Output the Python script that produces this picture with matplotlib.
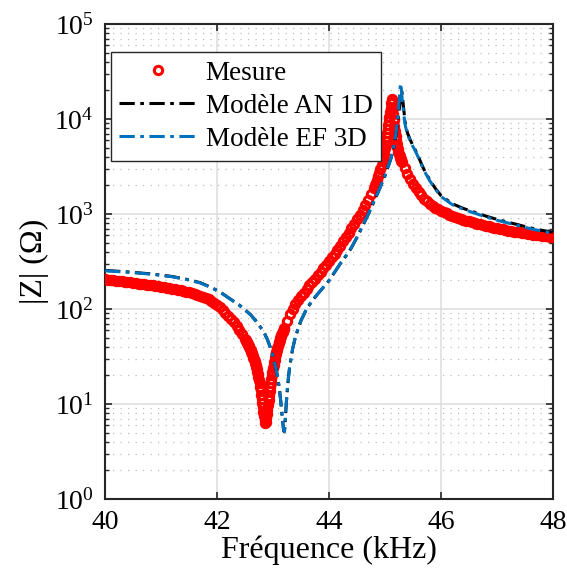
import matplotlib
matplotlib.use("Agg")
import matplotlib.pyplot as plt
from matplotlib.ticker import LogLocator, NullFormatter

# --- data --------------------------------------------------------------------
mesure_khz = [
    40.00, 40.05, 40.10, 40.15, 40.20, 40.25, 40.30, 40.35, 40.40, 40.45,
    40.50, 40.55, 40.60, 40.65, 40.70, 40.75, 40.80, 40.85, 40.90, 40.95,
    41.00, 41.05, 41.10, 41.15, 41.20, 41.25, 41.30, 41.35, 41.40, 41.45,
    41.50, 41.55, 41.60, 41.65, 41.70, 41.75, 41.80, 41.85, 41.90, 41.95,
    42.00, 42.05, 42.10, 42.15, 42.20, 42.25, 42.30, 42.35, 42.40, 42.45,
    42.50,
    42.51, 42.52, 42.53, 42.54, 42.55, 42.56, 42.57, 42.58, 42.59, 42.60,
    42.61, 42.62, 42.63, 42.64, 42.65, 42.66, 42.67, 42.68, 42.69, 42.70,
    42.71, 42.72, 42.73, 42.74, 42.75, 42.76, 42.77, 42.78, 42.79, 42.80,
    42.81, 42.82, 42.83, 42.84, 42.85, 42.86, 42.87, 42.88, 42.89, 42.90,
    42.91, 42.92, 42.93, 42.94, 42.95, 42.96, 42.97, 42.98, 42.99, 43.00,
    43.01, 43.02, 43.03, 43.04, 43.05, 43.06, 43.07, 43.08, 43.09, 43.10,
    43.11, 43.12, 43.13, 43.14, 43.15, 43.16, 43.17, 43.18, 43.19, 43.20,
    43.25, 43.30, 43.35, 43.40, 43.45, 43.50, 43.55, 43.60, 43.65, 43.70,
    43.75, 43.80, 43.85, 43.90, 43.95, 44.00, 44.05, 44.10, 44.15, 44.20,
    44.25, 44.30, 44.35, 44.40, 44.45, 44.50, 44.55, 44.60, 44.65, 44.70,
    44.75, 44.80,
    44.82, 44.84, 44.86, 44.88, 44.90, 44.92, 44.94, 44.96,
    44.97, 44.98, 44.99, 45.00, 45.01, 45.02, 45.03, 45.04, 45.05, 45.06,
    45.07, 45.08, 45.09, 45.10, 45.11, 45.12, 45.13, 45.14, 45.15, 45.16,
    45.17, 45.18, 45.19, 45.20, 45.21, 45.22, 45.23, 45.24, 45.25, 45.26,
    45.27, 45.28, 45.29, 45.30,
    45.35, 45.40, 45.45, 45.50, 45.55, 45.60, 45.65, 45.70, 45.75, 45.80,
    45.85, 45.90, 45.95, 46.00, 46.05, 46.10, 46.15, 46.20, 46.25, 46.30,
    46.35, 46.40, 46.45, 46.50, 46.55, 46.60, 46.65, 46.70, 46.75, 46.80,
    46.85, 46.90, 46.95, 47.00, 47.05, 47.10, 47.15, 47.20, 47.25, 47.30,
    47.35, 47.40, 47.45, 47.50, 47.55, 47.60, 47.65, 47.70, 47.75, 47.80,
    47.85, 47.90, 47.95, 48.00,
]
mesure_ohm = [
    205.1, 203.7, 201.8, 200.4, 198.6, 197.2, 195.4, 194.1, 192.3, 190.5,
    188.8, 187.1, 185.4, 183.7, 182.0, 180.3, 178.6, 177.0, 175.4, 173.4,
    171.8, 169.8, 167.9, 166.0, 164.1, 161.8, 159.6, 157.4, 154.9, 152.4,
    150.0, 147.2, 144.5, 141.6, 138.7, 135.2, 131.8, 127.1, 122.2, 116.1,
    110.2, 104.0, 97.7, 91.6, 85.5, 79.1, 72.8, 66.5, 60.3, 54.3,
    48.8,
    47.6, 46.6, 45.4, 44.2, 43.0, 41.8, 40.6, 39.4, 38.2, 37.0,
    35.7, 34.5, 33.3, 32.0, 30.8, 29.5, 28.2, 27.0, 25.7, 24.4,
    23.1, 21.8, 20.5, 19.2, 17.9, 16.5, 15.2, 13.9, 12.6, 11.4,
    10.3, 9.20, 8.28, 7.48, 6.81, 6.31, 6.53, 7.08, 7.82, 8.71,
    9.77, 10.96, 12.2, 13.6, 15.1, 16.7, 18.4, 20.1, 21.9, 23.7,
    25.6, 27.5, 29.4, 31.3, 33.3, 35.2, 37.2, 39.3, 41.3, 43.4,
    45.4, 47.4, 49.4, 51.4, 53.3, 55.3, 57.3, 59.3, 61.2, 63.2,
    75.5, 88.2, 100.5, 112.5, 124.0, 136.0, 149.0, 162.8, 177.2, 192.9,
    209.6, 227.7, 247.4, 268.8, 292.7, 318.7, 349.5, 383.2, 422.1, 466.0,
    516.9, 573.4, 635.9, 705.5, 786.0, 877.8, 985.0, 1105, 1248, 1417,
    1620, 1877,
    2002, 2145, 2309, 2502, 2725, 2980, 3300, 3720,
    3970, 4250, 4570, 4930, 5350, 5840, 6420, 7090, 7860, 8700,
    9620, 10590, 11800, 13120, 14620, 16410, 15310, 13180, 11220, 9661,
    8414, 7413, 6607, 5984, 5495, 5105, 4786, 4519, 4296, 4102,
    3935, 3784, 3648, 3524,
    3020, 2630, 2317, 2065, 1862, 1698, 1567, 1455, 1365, 1288,
    1224, 1169, 1122, 1082, 1047, 1014, 986.3, 959.4, 935.4, 912.0,
    891.3, 871.0, 853.1, 835.6, 820.3, 805.4, 790.6, 776.2, 763.9, 751.7,
    739.6, 727.8, 717.8, 707.9, 698.2, 688.7, 679.2, 669.9, 662.2, 654.7,
    647.2, 639.8, 632.4, 625.2, 619.4, 613.8, 608.2, 602.6, 597.0, 591.5,
    586.1, 580.7, 575.4, 571.5,
]

an1d_khz = [
    40.0, 40.4, 40.8, 41.2, 41.5, 41.7, 41.9, 42.0, 42.1, 42.2,
    42.3, 42.4, 42.5, 42.6, 42.7, 42.8, 42.85, 42.9, 42.95, 43.0,
    43.05, 43.08, 43.10, 43.12, 43.14, 43.16, 43.18, 43.19, 43.20, 43.21,
    43.22, 43.24, 43.26, 43.28, 43.30, 43.35, 43.40, 43.45, 43.50, 43.60,
    43.70, 43.80, 43.90, 44.00, 44.10, 44.20, 44.30, 44.40, 44.50, 44.60,
    44.70, 44.80, 44.90, 45.00, 45.05, 45.10, 45.15, 45.20, 45.23, 45.26,
    45.29, 45.30, 45.31, 45.33, 45.36, 45.40, 45.45, 45.50, 45.55, 45.60,
    45.65, 45.70, 45.80, 45.90, 46.00, 46.20, 46.40, 46.60, 46.80, 47.00,
    47.20, 47.40, 47.60, 47.80, 48.00,
]
an1d_ohm = [
    255, 246, 235, 220, 203, 189.5, 168.5, 157, 145, 132,
    120.5, 110, 98, 87.3, 74.3, 61.8, 55, 47.9, 39.8, 31.6,
    24.0, 19.5, 16.6, 13.5, 10.5, 7.9, 6.0, 5.3, 5.1, 5.5,
    7.0, 10.6, 15.0, 19.9, 25.0, 37.8, 50.5, 62.5, 75.5, 100,
    122, 144.5, 169, 199, 243.5, 299, 360, 441, 567, 748,
    989, 1338, 1820, 2530, 3080, 3720, 4800, 7000, 9700, 13400,
    17500, 20000, 17800, 13500, 9300, 7200, 6050, 5250, 4620, 3980,
    3390, 2920, 2290, 1860, 1565, 1285, 1145, 1043, 952, 878,
    819, 765, 714, 674, 644,
]

ef3d_khz = [
    40.0, 40.4, 40.8, 41.2, 41.5, 41.7, 41.9, 42.0, 42.1, 42.2,
    42.3, 42.4, 42.5, 42.6, 42.7, 42.8, 42.85, 42.9, 42.95, 43.0,
    43.05, 43.08, 43.10, 43.12, 43.14, 43.16, 43.18, 43.19, 43.20, 43.21,
    43.22, 43.24, 43.26, 43.28, 43.30, 43.35, 43.40, 43.45, 43.50, 43.60,
    43.70, 43.80, 43.90, 44.00, 44.10, 44.20, 44.30, 44.40, 44.50, 44.60,
    44.70, 44.80, 44.90, 45.00, 45.05, 45.10, 45.15, 45.20, 45.23, 45.25,
    45.27, 45.28, 45.29, 45.31, 45.33, 45.36, 45.40, 45.45, 45.50, 45.55,
    45.60, 45.65, 45.70, 45.80, 45.90, 46.00, 46.20, 46.40, 46.60, 46.80,
    47.00, 47.20, 47.40, 47.60, 47.80, 48.00,
]
ef3d_ohm = [
    252.9, 244.3, 233.4, 218.8, 201.8, 188.4, 167.9, 156.7, 144.5, 131.8,
    120.2, 109.6, 97.7, 87.1, 74.1, 61.7, 55.0, 47.9, 39.8, 31.6,
    24.0, 19.5, 16.6, 13.5, 10.5, 7.94, 6.03, 5.37, 5.13, 5.50,
    7.08, 10.7, 15.1, 20.0, 25.1, 38.0, 50.8, 62.8, 76.0, 100.5,
    122.7, 144.9, 169.7, 199.5, 244.6, 299.9, 360.8, 442.2, 568.2, 749.6,
    991, 1341, 1825, 2544, 3100, 3760, 4900, 7300, 10720, 14790,
    20890, 23770, 21380, 15490, 12020, 8710, 6918, 5888, 5129, 4519,
    3890, 3311, 2851, 2239, 1820, 1531, 1259, 1122, 1023, 933.3,
    861.0, 803.5, 749.9, 699.8, 660.7, 631.0,
]

labels = ['Mesure', 'Modèle AN 1D', 'Modèle EF 3D']
x_ticks = [40, 42, 44, 46, 48]

# --- style -------------------------------------------------------------------
plt.rcParams['font.family'] = ['Liberation Serif', 'DejaVu Serif']
plt.rcParams['mathtext.fontset'] = 'custom'
plt.rcParams['mathtext.rm'] = 'Liberation Serif'
plt.rcParams['mathtext.it'] = 'Liberation Serif:italic'
plt.rcParams['mathtext.bf'] = 'Liberation Serif:bold'

fig = plt.figure(figsize=(5.67, 5.83), dpi=100)
ax = fig.add_axes([0.1852, 0.144, 0.790, 0.8148])

ax.plot(mesure_khz, mesure_ohm, linestyle='none', marker='o', markersize=6,
        markerfacecolor='none', markeredgecolor='#ff0000', markeredgewidth=2.2,
        label=labels[0], zorder=3)
ax.plot(an1d_khz, an1d_ohm, color='black', linewidth=2.2, dashes=(5, 1.8, 1.2, 1.8),
        label=labels[1], zorder=4)
ax.plot(ef3d_khz, ef3d_ohm, color='#0072BD', linewidth=2.2, dashes=(5, 1.8, 1.2, 1.8),
        label=labels[2], zorder=5)

ax.set_yscale('log')
ax.set_xlim(40, 48)
ax.set_ylim(1, 1e5)
ax.set_xticks(x_ticks)
ax.yaxis.set_major_locator(LogLocator(base=10, numticks=10))
ax.yaxis.set_minor_locator(LogLocator(base=10, subs=range(2, 10), numticks=20))
ax.yaxis.set_minor_formatter(NullFormatter())

ax.grid(True, which='major', color='#dddddd', linewidth=1.1, linestyle='-')
ax.grid(True, which='minor', axis='y', color='#bdbdbd', linewidth=0.9,
        linestyle=(0, (1, 5)))
ax.set_axisbelow(True)

ax.tick_params(which='both', direction='in', top=True, right=True,
               colors='#262626', labelcolor='black', labelsize=20)
ax.tick_params(which='major', length=5, width=1.2, pad=8)
ax.tick_params(which='minor', length=3, width=1.0)
for sp in ax.spines.values():
    sp.set_linewidth(1.5)
    sp.set_color('#262626')

ax.set_xlabel('Fréquence (kHz)', fontsize=23, labelpad=0)
ax.set_ylabel('|Z| (Ω)', fontsize=23, labelpad=4)

leg = ax.legend(loc='upper left', bbox_to_anchor=(0.013, 0.941), borderaxespad=0,
                fontsize=19.5, numpoints=1, handlelength=2.85, handletextpad=0.33,
                labelspacing=0.3, borderpad=0.32, fancybox=False, framealpha=1)
leg.get_frame().set_edgecolor('#262626')
leg.get_frame().set_linewidth(1.0)

fig.savefig('out.png', dpi=100)
